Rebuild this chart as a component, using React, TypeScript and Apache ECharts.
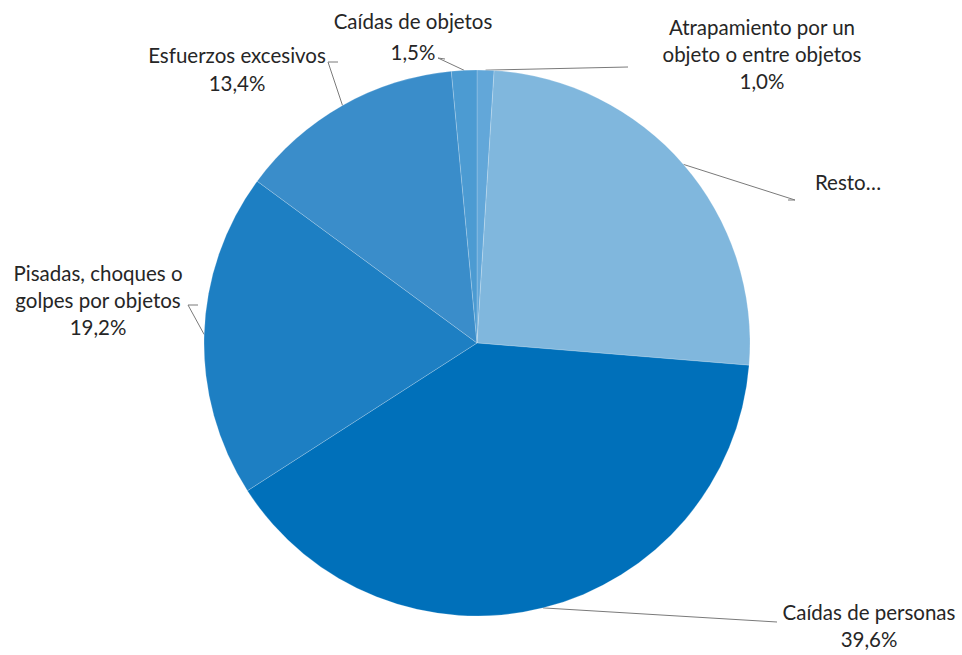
import React, { useEffect, useRef } from "react";
import * as echarts from "echarts";

// Data (clockwise from 12 o'clock)
const categories = [
  "Atrapamiento por un\nobjeto o entre objetos",
  "Resto…",
  "Caídas de personas",
  "Pisadas, choques o\ngolpes por objetos",
  "Esfuerzos excesivos",
  "Caídas de objetos",
];
const values = [1.0, 25.3, 39.6, 19.2, 13.4, 1.5];
const showPercent = [true, false, true, true, true, true];
const colors = ["#62A7D9", "#80B7DD", "#0070BA", "#1D7FC3", "#3A8DCA", "#4C9BD2"];

// Layout (pixels)
const CX = 477;
const CY = 343;
const R = 273;
// label block centres, and leader-line bend points
const labelPos = [
  { x: 762, y: 54, lh: 27, line: [[628, 67]] },
  { x: 848, y: 182, lh: 27, line: [[788, 200], [795, 200]] },
  { x: 869, y: 625, lh: 27, line: [[777, 622]] },
  { x: 98, y: 300, lh: 27, line: [[198, 305], [188, 305]] },
  { x: 237, y: 69, lh: 28, line: [[338, 62], [328, 62]] },
  { x: 413, y: 36, lh: 31, line: [[445, 59], [438, 58]] },
];
// angle override (degrees clockwise from top) for the leader start where needed
const anchorOverride: (number | null)[] = [null, null, 166, null, null, null];

function edge(deg: number): number[] {
  const a = (deg * Math.PI) / 180;
  return [CX + R * Math.sin(a), CY - R * Math.cos(a)];
}

export default function App() {
  const ref = useRef<HTMLDivElement>(null);
  useEffect(() => {
    if (!ref.current) return;
    const chart = echarts.init(ref.current, null, { renderer: "svg" });
    const total = values.reduce((s, v) => s + v, 0);
    const mids: number[] = [];
    let cum = 0;
    values.forEach((v) => {
      mids.push(((cum + v / 2) / total) * 360);
      cum += v;
    });
    const fmt = (v: number) => v.toFixed(1).replace(".", ",") + "%";
    chart.setOption({
      animation: false,
      backgroundColor: "#ffffff",
      series: [
        {
          type: "pie",
          center: [CX, CY],
          radius: [0, R],
          startAngle: 90,
          clockwise: true,
          avoidLabelOverlap: false,
          itemStyle: { borderColor: "rgba(255,255,255,0.2)", borderWidth: 1 },
          label: {
            show: true,
            position: "outside",
            color: "#262626",
            fontFamily: "Lato",
            fontSize: 20.5,
            lineHeight: 27,
            align: "center",
            formatter: (p: any) =>
              showPercent[p.dataIndex] ? p.name + "\n" + fmt(p.value) : p.name,
          },
          labelLine: {
            show: true,
            smooth: false,
            lineStyle: { color: "#7a7a7a", width: 1 },
          },
          labelLayout: (p: any) => {
            const i = p.dataIndex;
            const lp = labelPos[i];
            const ang = anchorOverride[i] ?? mids[i];
            const pts = [edge(ang), ...lp.line.slice().reverse()];
            return {
              x: lp.x,
              y: lp.y,
              align: "center",
              verticalAlign: "middle",
              labelLinePoints: pts,
            };
          },
          data: categories.map((name, i) => ({
            name,
            value: values[i],
            itemStyle: { color: colors[i] },
            label: { lineHeight: labelPos[i].lh },
          })),
        },
      ],
    });
    return () => chart.dispose();
  }, []);
  return (
    <div
      ref={ref}
      style={{ position: "fixed", left: 0, top: 0, width: 962, height: 655 }}
    />
  );
}
